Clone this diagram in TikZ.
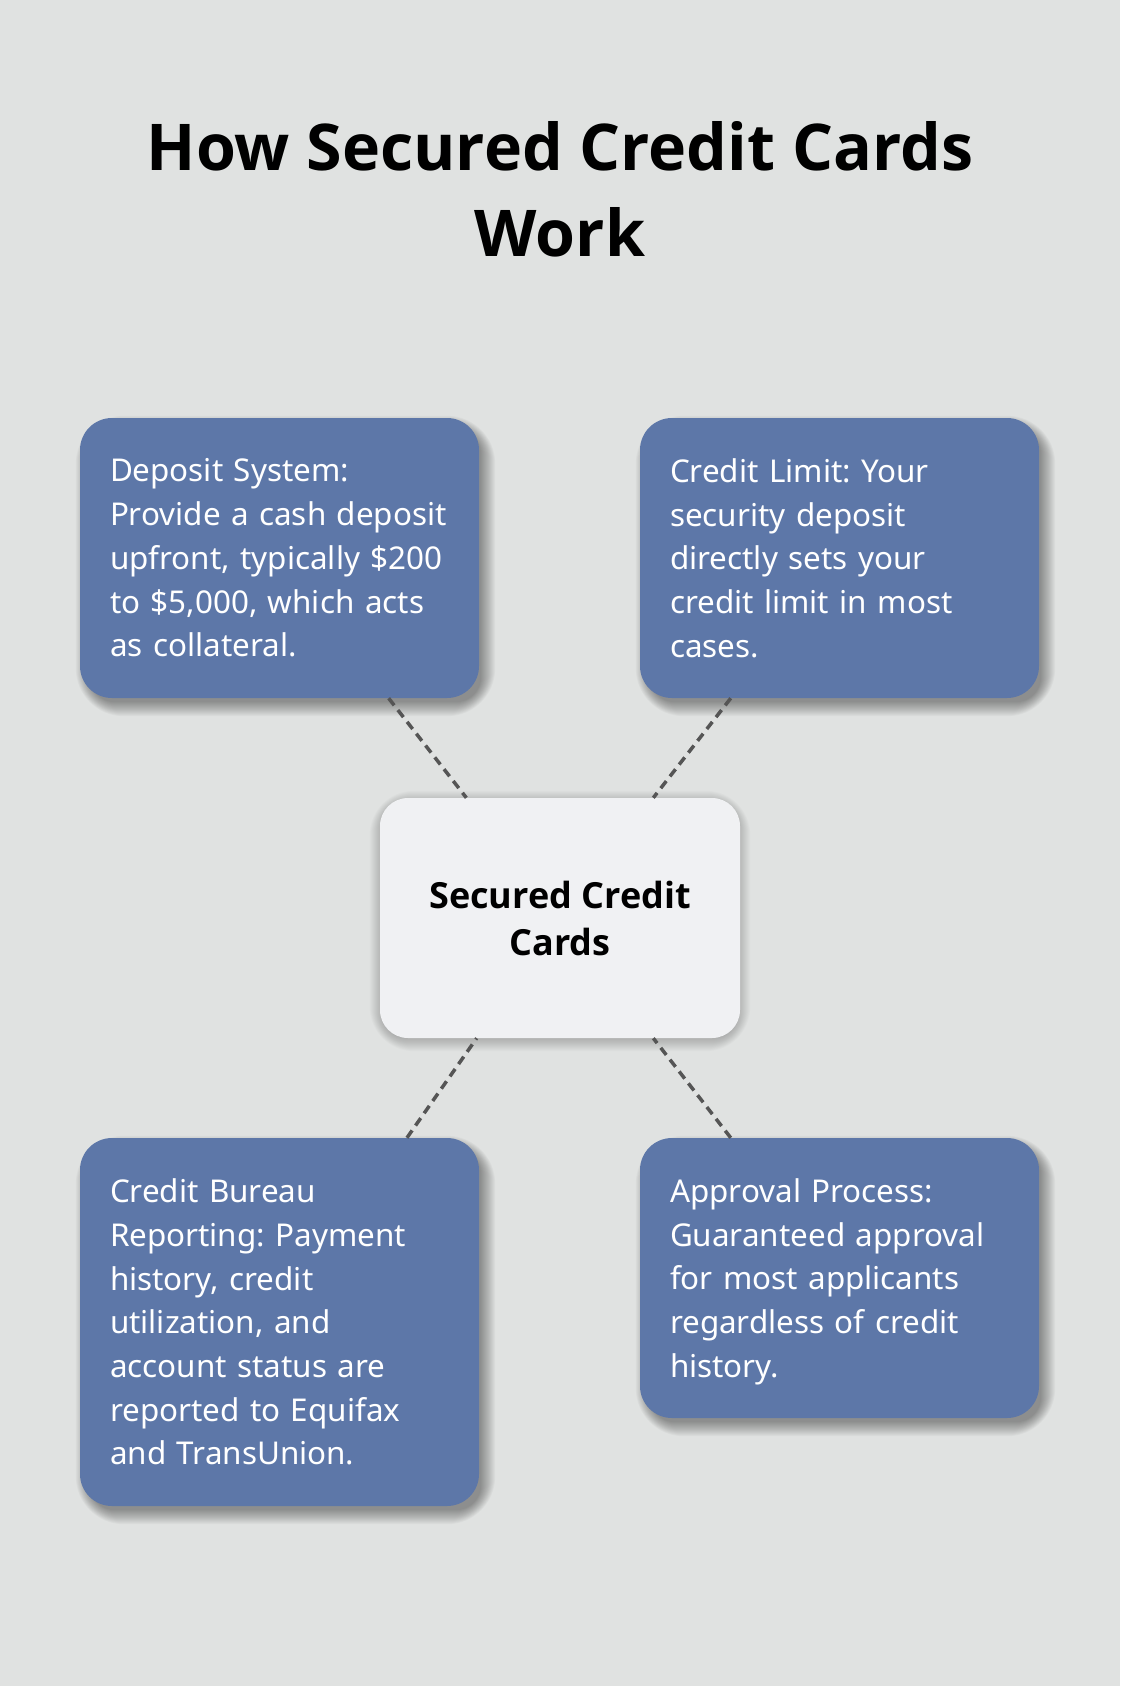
\documentclass[tikz,border=0pt]{standalone}
\usepackage{fontspec}
\setmainfont{Noto Sans}
\newfontfamily\headfont{Open Sans}
\usepackage{xcolor}
\usepackage{tikz}
\usetikzlibrary{positioning,backgrounds}
\definecolor{pagegray}{HTML}{E0E2E1}
\definecolor{cardblue}{HTML}{5D77A8}
\definecolor{hubwhite}{HTML}{F0F1F3}
\definecolor{linkgray}{HTML}{555555}
\frenchspacing
\begin{document}
\begin{tikzpicture}[x=1pt,y=1pt,
    card/.style={rectangle, rounded corners=32pt, fill=cardblue, text=white,
        minimum width=399pt, text width=339pt, inner xsep=30pt, inner ysep=0pt,
        align=left, font=\fontsize{31.4}{43.7}\selectfont},
    hub/.style={rectangle, rounded corners=28pt, fill=hubwhite, text=black,
        minimum width=360pt, minimum height=240pt, inner sep=0pt, align=center,
        font=\headfont\bfseries\fontsize{36}{47}\selectfont},
    link/.style={draw=linkgray, line width=3.5pt, dash pattern=on 9pt off 6pt}]
        \node [inner sep=0pt, align=center, font=\headfont\bfseries\fontsize{64.5}{86}\selectfont] (title) at (560,-189) {How Secured Credit Cards\\Work};
        % center and the four facts
        \node [hub] (hub) at (560,-918) {Secured Credit\\Cards};
        \node [card, minimum height=280pt] (deposit) at (279.5,-558) {Deposit System:\\Provide a cash deposit\\upfront, typically \$200\\to \$5,000, which acts\\as collateral.};
        \node [card, minimum height=280pt] (limit) at (839.5,-558) {Credit Limit: Your\\security deposit\\directly sets your\\credit limit in most\\cases.};
        \node [card, minimum height=368pt] (bureau) at (279.5,-1322) {Credit Bureau\\Reporting: Payment\\history, credit\\utilization, and\\account status are\\reported to Equifax\\and TransUnion.};
        \node [card, minimum height=280pt] (approval) at (839.5,-1278) {Approval Process:\\Guaranteed approval\\for most applicants\\regardless of credit\\\smash{history.}};
        \draw [link] (deposit) -- (hub);
        \draw [link] (limit) -- (hub);
        \draw [link] (bureau) -- (hub);
        \draw [link] (approval) -- (hub);
        % soft shadows
        \begin{scope}[on background layer]
            \fill [pagegray] (0,0) rectangle (1120,-1686);
            \foreach \n/\dx/\dy/\r/\op in {deposit/6/-8/32/0.028, limit/6/-8/32/0.028, bureau/6/-8/32/0.028, approval/6/-8/32/0.028, hub/0/-3/28/0.014}
                \foreach \k [evaluate=\k as \e using 1.6*\k, evaluate=\k as \rr using \r+1.6*\k] in {-4,...,10}
                    \fill [black, opacity=\op, rounded corners=\rr pt] ([shift={(\dx-\e,\dy+\e)}]\n.north west) rectangle ([shift={(\dx+\e,\dy-\e)}]\n.south east);
        \end{scope}
\end{tikzpicture}
\end{document}
